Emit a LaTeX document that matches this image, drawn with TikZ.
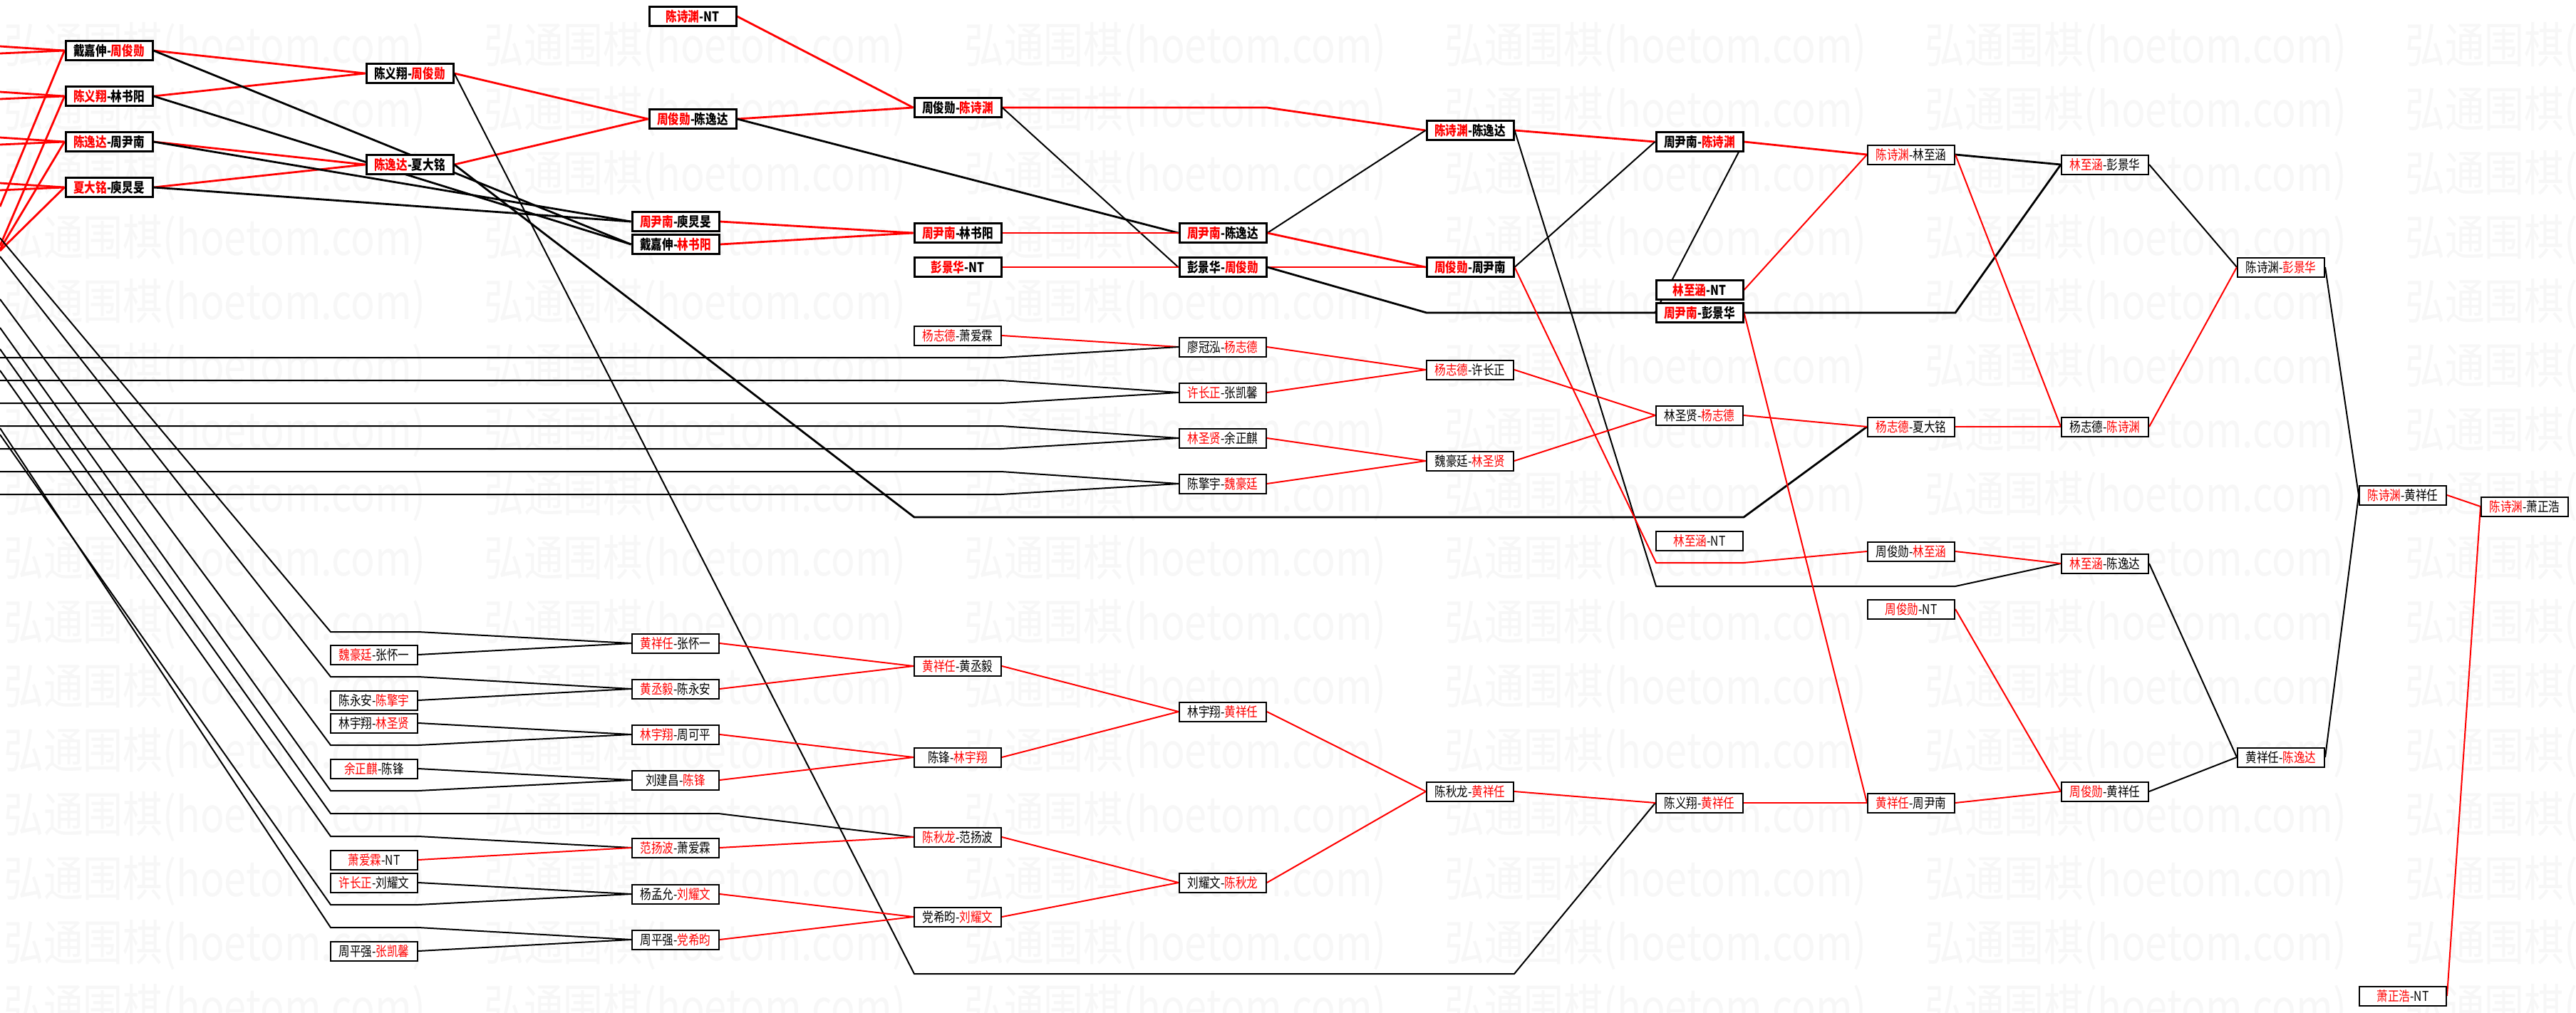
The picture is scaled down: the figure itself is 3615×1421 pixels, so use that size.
\documentclass[tikz,border=0pt]{standalone}
\usepackage{fontspec}
\newfontfamily\cjk[FakeStretch=0.82]{Noto Sans CJK SC}
\newcommand{\R}[1]{\textcolor{red}{#1}}
\pgfdeclarelayer{wm}
\pgfdeclarelayer{edges}
\pgfsetlayers{wm,edges,main}
\tikzset{
  bx/.style={draw, line width=1pt, fill=white, minimum width=61pt, minimum height=13.5pt, inner sep=0pt, font=\cjk\fontsize{9.5}{10}\selectfont},
  bxT/.style={bx, line width=1.5pt, font=\cjk\fontsize{9.5}{10}\selectfont\bfseries},
  redT/.style={draw=red, line width=1.4pt},
  blkT/.style={draw=black, line width=1.4pt},
  redN/.style={draw=red, line width=1pt},
  blkN/.style={draw=black, line width=1pt},
  wmark/.style={anchor=west, text=black!3, font=\cjk\fontsize{34}{36}\selectfont, inner sep=0pt}
}
\begin{document}
\begin{tikzpicture}[x=0.5pt,y=-0.5pt]
\useasboundingbox (0,0) rectangle (3615,1421);
\begin{pgfonlayer}{wm}
\fill[white] (0,0) rectangle (3615,1421);
\foreach \k in {0,...,15}{
  \foreach \j in {0,...,5}{
    \node[wmark] (wm-\k-\j) at ({5+674*\j},{67+90*\k}) {弘通围棋(hoetom.com)};
  }
}
\end{pgfonlayer}

% ---------- upper bracket nodes ----------
\node[bxT] (a1) at (153,71) {戴嘉伸-\R{周俊勋}};
\node[bxT] (a2) at (153,135) {\R{陈义翔}-林书阳};
\node[bxT] (a3) at (153,199) {\R{陈逸达}-周尹南};
\node[bxT] (a4) at (153,263) {\R{夏大铭}-庾炅旻};
\node[bxT] (b1) at (575,103) {陈义翔-\R{周俊勋}};
\node[bxT] (b2) at (575,231) {\R{陈逸达}-夏大铭};
\node[bxT] (c1) at (972,23) {\R{陈诗渊}-NT};
\node[bxT] (c2) at (972,167) {\R{周俊勋}-陈逸达};
\node[bxT] (q1) at (948,311) {\R{周尹南}-庾炅旻};
\node[bxT] (q2) at (948,343) {戴嘉伸-\R{林书阳}};
\node[bxT] (d1) at (1344,151) {周俊勋-\R{陈诗渊}};
\node[bxT] (d2) at (1344,327) {\R{周尹南}-林书阳};
\node[bxT] (d3) at (1344,375) {\R{彭景华}-NT};
\node[bx]  (d4) at (1344,471) {\R{杨志德}-萧爱霖};
\node[bxT] (e1) at (1716,327) {\R{周尹南}-陈逸达};
\node[bxT] (e2) at (1716,375) {彭景华-\R{周俊勋}};
\node[bx]  (e3) at (1716,487) {廖冠泓-\R{杨志德}};
\node[bx]  (e4) at (1716,551) {\R{许长正}-张凯馨};
\node[bx]  (e5) at (1716,615) {\R{林圣贤}-余正麒};
\node[bx]  (e6) at (1716,679) {陈擎宇-\R{魏豪廷}};
\node[bxT] (f1) at (2063,183) {\R{陈诗渊}-陈逸达};
\node[bxT] (f2) at (2063,375) {\R{周俊勋}-周尹南};
\node[bx]  (f3) at (2063,519) {\R{杨志德}-许长正};
\node[bx]  (f4) at (2063,647) {魏豪廷-\R{林圣贤}};
\node[bxT] (g1) at (2385,199) {周尹南-\R{陈诗渊}};
\node[bxT] (g2) at (2385,407) {\R{林至涵}-NT};
\node[bxT] (g3) at (2385,439) {\R{周尹南}-彭景华};
\node[bx]  (g4) at (2385,583) {林圣贤-\R{杨志德}};
\node[bx]  (g5) at (2385,759) {\R{林至涵}-NT};
\node[bx]  (h1) at (2682,217) {\R{陈诗渊}-林至涵};
\node[bx]  (h2) at (2682,599) {\R{杨志德}-夏大铭};
\node[bx]  (h3) at (2682,774) {周俊勋-\R{林至涵}};
\node[bx]  (h4) at (2682,855) {\R{周俊勋}-NT};
\node[bx]  (i1) at (2954,231) {\R{林至涵}-彭景华};
\node[bx]  (i2) at (2954,599) {杨志德-\R{陈诗渊}};
\node[bx]  (i3) at (2954,791) {\R{林至涵}-陈逸达};
\node[bx]  (i4) at (2954,1111) {\R{周俊勋}-黄祥任};
\node[bx]  (j1) at (3201,375) {陈诗渊-\R{彭景华}};
\node[bx]  (j2) at (3201,1063) {黄祥任-\R{陈逸达}};
\node[bx]  (k1) at (3372,695) {\R{陈诗渊}-黄祥任};
\node[bx]  (k2) at (3372,1398) {\R{萧正浩}-NT};
\node[bx]  (l1) at (3543,711) {\R{陈诗渊}-萧正浩};

% ---------- lower bracket nodes ----------
\node[bx] (p1) at (525,919) {\R{魏豪廷}-张怀一};
\node[bx] (p2) at (525,983) {陈永安-\R{陈擎宇}};
\node[bx] (p3) at (525,1015) {林宇翔-\R{林圣贤}};
\node[bx] (p4) at (525,1079) {\R{余正麒}-陈锋};
\node[bx] (p5) at (525,1207) {\R{萧爱霖}-NT};
\node[bx] (p6) at (525,1239) {\R{许长正}-刘耀文};
\node[bx] (p7) at (525,1335) {周平强-\R{张凯馨}};
\node[bx] (q3) at (948,903) {\R{黄祥任}-张怀一};
\node[bx] (q4) at (948,967) {\R{黄丞毅}-陈永安};
\node[bx] (q5) at (948,1031) {\R{林宇翔}-周可平};
\node[bx] (q6) at (948,1095) {刘建昌-\R{陈锋}};
\node[bx] (q7) at (948,1190) {\R{范扬波}-萧爱霖};
\node[bx] (q8) at (948,1255) {杨孟允-\R{刘耀文}};
\node[bx] (q9) at (948,1319) {周平强-\R{党希昀}};
\node[bx] (d5) at (1344,935) {\R{黄祥任}-黄丞毅};
\node[bx] (d6) at (1344,1063) {陈锋-\R{林宇翔}};
\node[bx] (d7) at (1344,1175) {\R{陈秋龙}-范扬波};
\node[bx] (d8) at (1344,1287) {党希昀-\R{刘耀文}};
\node[bx] (e7) at (1716,999) {林宇翔-\R{黄祥任}};
\node[bx] (e8) at (1716,1239) {刘耀文-\R{陈秋龙}};
\node[bx] (f5) at (2063,1111) {陈秋龙-\R{黄祥任}};
\node[bx] (g6) at (2385,1127) {陈义翔-\R{黄祥任}};
\node[bx] (h5) at (2682,1127) {\R{黄祥任}-周尹南};

% ---------- coordinates ----------
\coordinate (tb1a) at (1283,1367); \coordinate (tb1b) at (2125,1367);
\coordinate (tb2a) at (1283,726);  \coordinate (tb2b) at (2447,726);
\coordinate (td1) at (1778,151);
\coordinate (te2a) at (2002,439);  \coordinate (te2b) at (2744,439);
\coordinate (tf1a) at (2324,823);  \coordinate (tf1b) at (2744,823);
\coordinate (tf2a) at (2324,790);  \coordinate (tf2b) at (2447,790);
\foreach \n/\ya/\yb in {1/65/75,2/129/139,3/193/203,4/257/267}{
  \coordinate (La\n) at (0,\ya); \coordinate (Lb\n) at (0,\yb);
}
\coordinate (Ls1) at (0,290); \coordinate (Ls2) at (0,345);
\coordinate (Ls3) at (0,350); \coordinate (Ls4) at (0,352);
\foreach \n/\y in {1/502,2/534,3/566,4/598,5/630,6/662,7/694}{
  \coordinate (H\n) at (0,\y); \coordinate (Hx\n) at (1405,\y);
}
\foreach \n/\ys/\ye in {1/334/887,2/360/950,3/420/1046,4/460/1110,5/490/1142,6/520/1174,7/610/1270,8/601/1302}{
  \coordinate (D\n) at (0,\ys); \coordinate (Dp\n) at (464,\ye); \coordinate (Dq\n) at (587,\ye);
}
\coordinate (Dr5) at (1008,1142);

\begin{pgfonlayer}{edges}
\foreach \n in {1,2,3,4}{
  \draw[redT] (La\n) -- (a\n.west);
  \draw[redT] (Lb\n) -- (a\n.west);
  \draw[redT] (Ls\n) -- (a\n.west);
}
\draw[redT] (a1.east) -- (b1.west);
\draw[redT] (a2.east) -- (b1.west);
\draw[redT] (a3.east) -- (b2.west);
\draw[redT] (a4.east) -- (b2.west);
\draw[blkT] (a1.east) -- (q2.west);
\draw[blkT] (a2.east) -- (q2.west);
\draw[blkT] (a3.east) -- (q1.west);
\draw[blkT] (a4.east) -- (q1.west);
\draw[redT] (b1.east) -- (c2.west);
\draw[redT] (b2.east) -- (c2.west);
\draw[blkN] (b1.east) -- (tb1a) -- (tb1b) -- (g6.west);
\draw[blkT] (b2.east) -- (tb2a) -- (tb2b) -- (h2.west);
\draw[redT] (c1.east) -- (d1.west);
\draw[redT] (c2.east) -- (d1.west);
\draw[blkT] (c2.east) -- (e1.west);
\draw[redT] (q1.east) -- (d2.west);
\draw[redT] (q2.east) -- (d2.west);
\draw[redT] (d1.east) -- (td1) -- (f1.west);
\draw[blkN] (d1.east) -- (e2.west);
\draw[redT] (d2.east) -- (e1.west);
\draw[redT] (d3.east) -- (e2.west);
\draw[blkN] (e1.east) -- (f1.west);
\draw[redT] (e1.east) -- (f2.west);
\draw[redT] (e2.east) -- (f2.west);
\draw[blkT] (e2.east) -- (te2a) -- (te2b) -- (i1.west);
\draw[redT] (f1.east) -- (g1.west);
\draw[blkN] (f1.east) -- (tf1a) -- (tf1b) -- (i3.west);
\draw[blkN] (f2.east) -- (g1.west);
\draw[redN] (f2.east) -- (tf2a) -- (tf2b) -- (h3.west);
\draw[redT] (g1.east) -- (h1.west);
\draw[blkN] (g1.east) -- (g3.west);
\draw[redN] (g2.east) -- (h1.west);
\draw[redN] (g3.east) -- (h5.west);
\draw[blkT] (h1.east) -- (i1.west);
\draw[redN] (h1.east) -- (i2.west);
\draw[redN] (h2.east) -- (i2.west);
\draw[redN] (h3.east) -- (i3.west);
\draw[redN] (h4.east) -- (i4.west);
\draw[blkN] (i1.east) -- (j1.west);
\draw[redN] (i2.east) -- (j1.west);
\draw[blkN] (i3.east) -- (j2.west);
\draw[blkN] (i4.east) -- (j2.west);
\draw[blkN] (j1.east) -- (k1.west);
\draw[blkN] (j2.east) -- (k1.west);
\draw[redN] (k1.east) -- (l1.west);
\draw[redN] (k2.east) -- (l1.west);
\draw[redN] (d4.east) -- (e3.west);
\draw[blkN] (H1) -- (Hx1) -- (e3.west);
\draw[blkN] (H2) -- (Hx2) -- (e4.west);
\draw[blkN] (H3) -- (Hx3) -- (e4.west);
\draw[blkN] (H4) -- (Hx4) -- (e5.west);
\draw[blkN] (H5) -- (Hx5) -- (e5.west);
\draw[blkN] (H6) -- (Hx6) -- (e6.west);
\draw[blkN] (H7) -- (Hx7) -- (e6.west);
\draw[redN] (e3.east) -- (f3.west);
\draw[redN] (e4.east) -- (f3.west);
\draw[redN] (e5.east) -- (f4.west);
\draw[redN] (e6.east) -- (f4.west);
\draw[redN] (f3.east) -- (g4.west);
\draw[redN] (f4.east) -- (g4.west);
\draw[redN] (g4.east) -- (h2.west);
\foreach \n/\t in {1/q3,2/q4,3/q5,4/q6,6/q7,7/q8,8/q9}{
  \draw[blkN] (D\n) -- (Dp\n) -- (Dq\n) -- (\t.west);
}
\draw[blkN] (D5) -- (Dp5) -- (Dq5) -- (Dr5) -- (d7.west);
\draw[blkN] (p1.east) -- (q3.west);
\draw[blkN] (p2.east) -- (q4.west);
\draw[blkN] (p3.east) -- (q5.west);
\draw[blkN] (p4.east) -- (q6.west);
\draw[redN] (p5.east) -- (q7.west);
\draw[blkN] (p6.east) -- (q8.west);
\draw[blkN] (p7.east) -- (q9.west);
\draw[redN] (q3.east) -- (d5.west);
\draw[redN] (q4.east) -- (d5.west);
\draw[redN] (q5.east) -- (d6.west);
\draw[redN] (q6.east) -- (d6.west);
\draw[redN] (q7.east) -- (d7.west);
\draw[redN] (q8.east) -- (d8.west);
\draw[redN] (q9.east) -- (d8.west);
\draw[redN] (d5.east) -- (e7.west);
\draw[redN] (d6.east) -- (e7.west);
\draw[redN] (d7.east) -- (e8.west);
\draw[redN] (d8.east) -- (e8.west);
\draw[redN] (e7.east) -- (f5.west);
\draw[redN] (e8.east) -- (f5.west);
\draw[redN] (f5.east) -- (g6.west);
\draw[redN] (g6.east) -- (h5.west);
\draw[redN] (h5.east) -- (i4.west);
\end{pgfonlayer}
\end{tikzpicture}
\end{document}
